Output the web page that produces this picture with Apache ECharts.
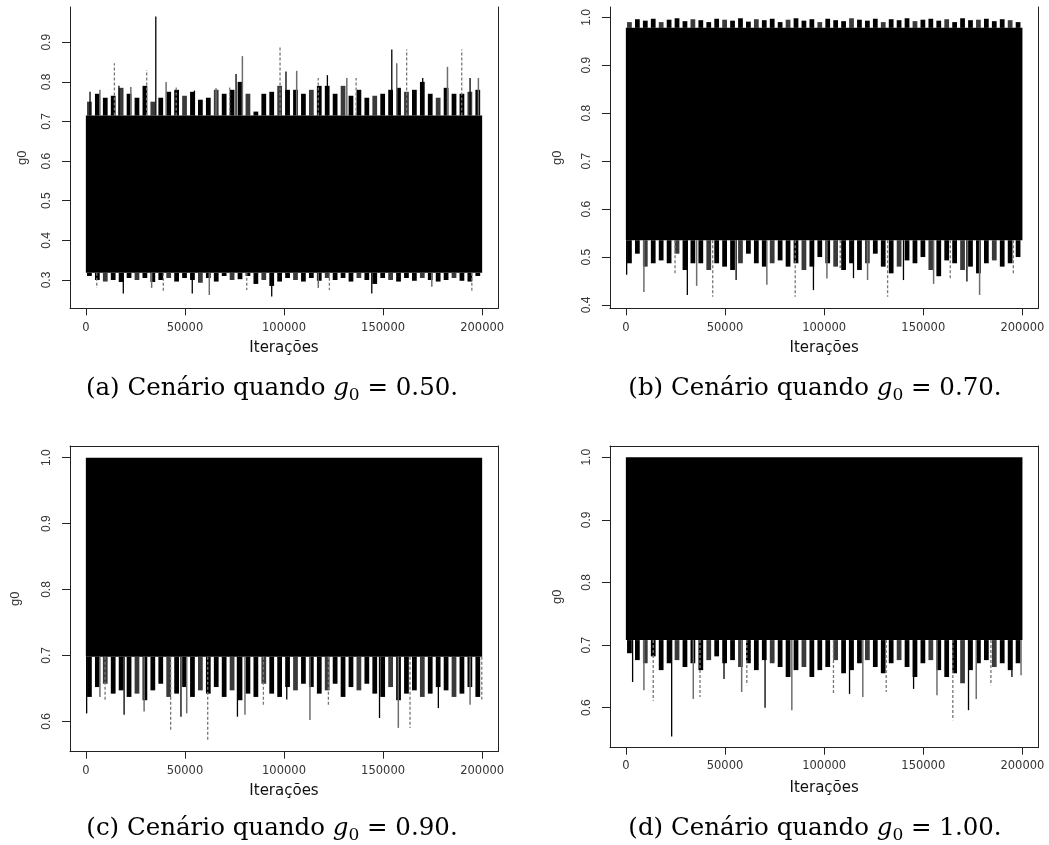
<!DOCTYPE html>
<html><head><meta charset="utf-8">
<script src="https://cdn.jsdelivr.net/npm/echarts@6/dist/echarts.min.js"></script>
<style>html,body{margin:0;padding:0;background:#fff}#c{width:1049px;height:845px}</style>
</head><body><div id="c"></div>
<script>
// ---------- data ----------
const iterTicks = [0, 50000, 100000, 150000, 200000];
const iterStart = 0, iterEnd = 200000, binSize = 4000;

const aTicks = [0.3, 0.4, 0.5, 0.6, 0.7, 0.8, 0.9];
const bTicks = [0.4, 0.5, 0.6, 0.7, 0.8, 0.9, 1.0];
const cTicks = [0.6, 0.7, 0.8, 0.9, 1.0];
const dTicks = [0.6, 0.7, 0.8, 0.9, 1.0];

// dense central band [low, high] of each trace
const aCore = [0.318, 0.715];
const bCore = [0.535, 0.978];
const cCore = [0.698, 1.0];
const dCore = [0.708, 1.0];

// per-bin extremes (bins of 4000 iterations)
const aHi = [0.75,0.77,0.76,0.765,0.785,0.77,0.76,0.79,0.75,0.76,0.775,0.78,0.765,0.775,0.755,0.76,0.78,0.77,0.78,0.80,0.77,0.725,0.77,0.775,0.79,0.78,0.78,0.77,0.78,0.79,0.79,0.77,0.79,0.765,0.78,0.76,0.765,0.77,0.78,0.785,0.775,0.78,0.80,0.77,0.76,0.785,0.77,0.77,0.775,0.78];
const aLo = [0.31,0.30,0.296,0.30,0.295,0.305,0.30,0.305,0.295,0.30,0.305,0.296,0.305,0.30,0.293,0.305,0.296,0.31,0.30,0.302,0.31,0.29,0.30,0.285,0.296,0.305,0.30,0.296,0.305,0.298,0.305,0.30,0.305,0.296,0.305,0.30,0.29,0.305,0.30,0.296,0.305,0.298,0.305,0.30,0.296,0.30,0.305,0.298,0.296,0.31];
const bHi = [0.99,0.996,0.993,0.997,0.99,0.995,0.998,0.992,0.996,0.994,0.99,0.997,0.995,0.993,0.998,0.991,0.996,0.994,0.997,0.99,0.995,0.998,0.993,0.996,0.99,0.997,0.994,0.992,0.998,0.995,0.993,0.997,0.99,0.996,0.994,0.998,0.992,0.995,0.997,0.993,0.996,0.99,0.998,0.994,0.995,0.997,0.992,0.996,0.994,0.99];
const bLo = [0.487,0.507,0.48,0.487,0.493,0.487,0.507,0.473,0.487,0.487,0.473,0.487,0.48,0.473,0.487,0.507,0.487,0.48,0.487,0.493,0.48,0.487,0.473,0.48,0.50,0.487,0.48,0.473,0.487,0.473,0.487,0.507,0.48,0.466,0.48,0.493,0.487,0.50,0.473,0.46,0.493,0.487,0.473,0.48,0.466,0.487,0.493,0.48,0.487,0.50];
const cLo = [0.637,0.652,0.657,0.642,0.647,0.637,0.642,0.632,0.647,0.657,0.637,0.642,0.652,0.637,0.647,0.642,0.652,0.637,0.647,0.632,0.642,0.637,0.657,0.642,0.637,0.652,0.647,0.657,0.652,0.642,0.647,0.657,0.637,0.652,0.647,0.657,0.642,0.637,0.652,0.632,0.642,0.647,0.637,0.642,0.652,0.647,0.637,0.642,0.652,0.637];
const dLo = [0.687,0.676,0.671,0.682,0.66,0.671,0.676,0.665,0.671,0.66,0.676,0.682,0.671,0.676,0.665,0.671,0.66,0.676,0.671,0.665,0.649,0.66,0.665,0.649,0.66,0.665,0.676,0.655,0.66,0.671,0.676,0.665,0.655,0.671,0.676,0.665,0.649,0.671,0.676,0.66,0.649,0.655,0.639,0.66,0.671,0.676,0.665,0.671,0.66,0.671];

// isolated excursions [iteration, value]
const aUp = [[2100,0.775],[7100,0.78],[14400,0.847],[16700,0.79],[22700,0.787],[30700,0.83],[35300,0.965],[40500,0.80],[45600,0.79],[54800,0.778],[65700,0.784],[72600,0.79],[75800,0.82],[79000,0.865],[98000,0.891],[101000,0.826],[106400,0.828],[117300,0.81],[121900,0.817],[131700,0.81],[136400,0.81],[154400,0.882],[156900,0.847],[161900,0.882],[170000,0.81],[182500,0.838],[189700,0.882],[193900,0.81],[198100,0.81]];
const aDown = [[5500,0.28],[18900,0.266],[33200,0.28],[39100,0.268],[53700,0.266],[62300,0.262],[81200,0.275],[93800,0.258],[117300,0.28],[122900,0.275],[144300,0.266],[174600,0.283],[194800,0.268]];
const bUp = [];
const bDown = [[400,0.463],[9100,0.427],[24800,0.463],[31000,0.421],[35700,0.44],[43800,0.417],[55600,0.452],[71100,0.442],[85400,0.417],[94600,0.431],[101400,0.455],[108100,0.477],[114800,0.456],[121900,0.452],[132000,0.417],[140000,0.452],[155200,0.444],[163600,0.455],[172000,0.449],[178400,0.421],[195400,0.463]];
const cUp = [];
const cDown = [[400,0.612],[7100,0.637],[9700,0.632],[19300,0.61],[29400,0.615],[42800,0.584],[48000,0.607],[50900,0.612],[61500,0.572],[76500,0.607],[80300,0.61],[89600,0.625],[101400,0.633],[113100,0.602],[122400,0.622],[148200,0.605],[157700,0.59],[163600,0.59],[177900,0.62],[193900,0.625],[199800,0.633]];
const dUp = [];
const dDown = [[3400,0.641],[9100,0.628],[13800,0.611],[23100,0.554],[34000,0.614],[37400,0.617],[49500,0.646],[58400,0.625],[61000,0.636],[70200,0.60],[83700,0.596],[104700,0.622],[112800,0.622],[119500,0.617],[131300,0.625],[145100,0.63],[156900,0.62],[164900,0.58],[172800,0.596],[176700,0.614],[184100,0.636],[194700,0.649],[199300,0.652]];

const captions = ['(a)', '(b)', '(c)', '(d)'];
const captionValues = ['0.50', '0.70', '0.90', '1.00'];

// ---------- layout ----------
const panels = [
  {box:{left:70, top:7, width:428, height:301.3}, ymin:0.2285, ymax:0.989, yt:aTicks, core:aCore, hi:aHi, lo:aLo, up:aUp, down:aDown, topLine:false, xLabM:14, xNameGap:32, yNameGap:41, cap:[272,389]},
  {box:{left:610, top:7, width:428.3, height:301.3}, ymin:0.3931, ymax:1.0215, yt:bTicks, core:bCore, hi:bHi, lo:bLo, up:bUp, down:bDown, topLine:false, xLabM:14, xNameGap:32, yNameGap:46.5, cap:[815,389]},
  {box:{left:70, top:446, width:428, height:305.7}, ymin:0.5539, ymax:1.01775, yt:cTicks, core:cCore, hi:null, lo:cLo, up:cUp, down:cDown, topLine:true, xLabM:13, xNameGap:32, yNameGap:48, cap:[272,829]},
  {box:{left:610, top:446, width:428.3, height:301.7}, ymin:0.5361, ymax:1.018, yt:dTicks, core:dCore, hi:null, lo:dLo, up:dUp, down:dDown, topLine:true, xLabM:12, xNameGap:32.5, yNameGap:46.5, cap:[815,829]}
];

const AX = '#222';
const opt = {animation:false, grid:[], xAxis:[], yAxis:[], series:[], graphic:[]};

function rectItem(api, x0, x1, y0, y1, fill) {
  const p1 = api.coord([x0, y1]);
  const p2 = api.coord([x1, y0]);
  return {type:'rect', shape:{x:p1[0], y:p1[1], width:p2[0]-p1[0], height:p2[1]-p1[1]}, style:{fill:fill}};
}

panels.forEach((p, k) => {
  opt.grid.push(Object.assign({}, p.box));
  const xi = opt.xAxis.length;
  opt.xAxis.push({
    type:'value', gridIndex:k, min:-8000, max:208000, position:'bottom',
    axisLine:{show:true, onZero:false, lineStyle:{color:AX, width:1}},
    axisTick:{show:true, length:7, customValues:iterTicks, lineStyle:{color:AX}},
    axisLabel:{customValues:iterTicks, margin:p.xLabM, fontFamily:'DejaVu Sans', fontSize:11.5, color:'#333', formatter:v=>String(v)},
    splitLine:{show:false},
    name:'Iterações', nameLocation:'middle', nameGap:p.xNameGap,
    nameTextStyle:{fontFamily:'DejaVu Sans', fontSize:15, color:'#111'}
  });
  if (p.topLine) {
    opt.xAxis.push({type:'value', gridIndex:k, min:-8000, max:208000, position:'top',
      axisLine:{show:true, onZero:false, lineStyle:{color:AX, width:1}},
      axisTick:{show:false}, axisLabel:{show:false}, splitLine:{show:false}});
  }
  const yi = opt.yAxis.length;
  opt.yAxis.push({
    type:'value', gridIndex:k, min:p.ymin, max:p.ymax, position:'left',
    axisLine:{show:true, onZero:false, lineStyle:{color:AX, width:1}},
    axisTick:{show:true, length:8, customValues:p.yt, lineStyle:{color:AX}},
    axisLabel:{customValues:p.yt, rotate:90, margin:17, fontFamily:'Liberation Sans', fontSize:12, color:'#333', formatter:v=>v.toFixed(1)},
    splitLine:{show:false},
    name:'g0', nameLocation:'middle', nameRotate:90, nameGap:p.yNameGap,
    nameTextStyle:{fontFamily:'Liberation Sans', fontSize:13, color:'#333'}
  });
  opt.yAxis.push({type:'value', gridIndex:k, min:p.ymin, max:p.ymax, position:'right',
    axisLine:{show:true, onZero:false, lineStyle:{color:AX, width:1}},
    axisTick:{show:false}, axisLabel:{show:false}, splitLine:{show:false}});

  // envelope bins (comb of bars)
  const bins = [];
  p.lo.forEach((v, i) => bins.push([iterStart + i*binSize, iterStart + (i+1)*binSize, v, p.core[0]]));
  if (p.hi) p.hi.forEach((v, i) => bins.push([iterStart + i*binSize, iterStart + (i+1)*binSize, p.core[1], v]));
  opt.series.push({
    type:'custom', xAxisIndex:xi, yAxisIndex:yi, coordinateSystem:'cartesian2d', silent:true,
    encode:{x:[0,1], y:[2,3]}, data:bins,
    renderItem:(params, api) => {
      const x0 = api.value(0), x1 = api.value(1);
      const w = (x1 - x0);
      const fill = params.dataIndex % 4 === 2 ? '#3a3a3a' : '#000';
      return rectItem(api, x0 + w*0.15, x1 - w*0.25, api.value(2), api.value(3), fill);
    }
  });
  // core band
  opt.series.push({
    type:'custom', xAxisIndex:xi, yAxisIndex:yi, coordinateSystem:'cartesian2d', silent:true,
    encode:{x:[0,1], y:[2,3]}, data:[[iterStart, iterEnd, p.core[0], p.core[1]]],
    renderItem:(params, api) => rectItem(api, api.value(0), api.value(1), api.value(2), api.value(3), '#000')
  });
  // excursions
  const sp = [];
  p.up.forEach(d => sp.push([d[0], p.core[1], d[1]]));
  p.down.forEach(d => sp.push([d[0], p.core[0], d[1]]));
  opt.series.push({
    type:'custom', xAxisIndex:xi, yAxisIndex:yi, coordinateSystem:'cartesian2d', silent:true,
    encode:{x:0, y:[1,2]}, data:sp,
    renderItem:(params, api) => {
      const a = api.coord([api.value(0), api.value(1)]);
      const b = api.coord([api.value(0), api.value(2)]);
      const m = params.dataIndex % 3;
      const style = m === 0 ? {stroke:'#000', lineWidth:1.3}
                  : m === 1 ? {stroke:'#6e6e6e', lineWidth:1.5}
                  : {stroke:'#777', lineWidth:1.3, lineDash:[3,2]};
      return {type:'line', shape:{x1:a[0], y1:a[1], x2:b[0], y2:b[1]}, style:style};
    }
  });

  opt.graphic.push({
    type:'text', x:p.cap[0], y:p.cap[1], silent:true,
    style:{
      text: captions[k] + ' Cenário quando {g|g}{s|0} = ' + captionValues[k] + '.',
      font:'24.5px "DejaVu Serif"', fill:'#000', align:'center', verticalAlign:'middle',
      rich:{
        g:{fontFamily:'DejaVu Serif', fontStyle:'italic', fontSize:24.5, lineHeight:30, verticalAlign:'middle'},
        s:{fontFamily:'DejaVu Serif', fontSize:17, lineHeight:17, verticalAlign:'bottom'}
      }
    }
  });
});

const chart = echarts.init(document.getElementById('c'), null, {renderer:'canvas'});
chart.setOption(opt);
</script></body></html>
